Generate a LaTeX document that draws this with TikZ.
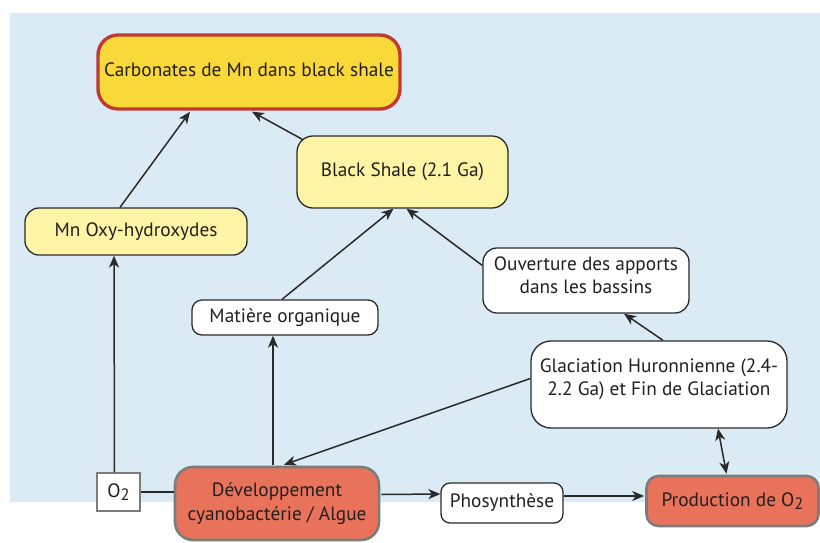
\documentclass[tikz,border=0pt]{standalone}
\usepackage{fontspec}
\setmainfont{PT Sans}
\usetikzlibrary{arrows.meta,calc}
\definecolor{bgblue}{HTML}{DBEBF6}
\definecolor{carbfill}{HTML}{F9D83A}
\definecolor{carbline}{HTML}{BF3A33}
\definecolor{lyellow}{HTML}{FDF4A6}
\definecolor{salmon}{HTML}{E9735A}
\definecolor{grayline}{HTML}{7C7C7C}
\definecolor{inkline}{HTML}{2A2A2A}
\definecolor{txt}{HTML}{231F20}
\newcommand{\subtwo}{\raisebox{-3.5pt}{\fontsize{16.5}{16.5}\selectfont 2}}
\tikzset{
  basebox/.style={draw=inkline, line width=1.3pt, align=center, text=txt, inner sep=0pt},
  ybox/.style={basebox, fill=lyellow},
  wbox/.style={basebox, fill=white},
  rbox/.style={basebox, fill=salmon, draw=grayline, line width=2.6pt},
  boxtext/.style={align=center, text=txt, inner sep=0pt},
  arr/.style={draw=inkline, line width=1.5pt, -{Stealth[length=12pt,width=10pt,inset=3.5pt]}},
  darr/.style={draw=inkline, line width=1.5pt, {Stealth[length=12pt,width=10pt,inset=3.5pt]}-{Stealth[length=12pt,width=10pt,inset=3.5pt]}},
  plain/.style={draw=inkline, line width=1.5pt}
}
\begin{document}
\begin{tikzpicture}[x=1pt,y=-1pt,font=\fontsize{19.3}{22.5}\selectfont]
\useasboundingbox (0,0) rectangle (820,542);
\fill[bgblue] (10,13) rectangle (820,502);

\node[basebox, fill=carbfill, draw=carbline, line width=3.4pt, rounded corners=20pt,
      minimum width=302pt, minimum height=74pt] (carb) at (249,72) {};
\node[boxtext] (carbt) at (249,70) {Carbonates de Mn dans black shale};
\node[ybox, rounded corners=16pt, minimum width=211pt, minimum height=72pt] (bs) at (402.5,172) {Black Shale (2.1 Ga)};
\node[ybox, rounded corners=14pt, minimum width=222pt, minimum height=47pt] (mn) at (136,231.5) {Mn Oxy-hydroxydes};
\node[wbox, rounded corners=10pt, minimum width=186pt, minimum height=35pt] (mat) at (285,317.5) {Matière organique};
\node[wbox, rounded corners=14pt, minimum width=206pt, minimum height=65pt] (ouv) at (586,280.5) {};
\node[boxtext] (ouvt) at (586,275) {Ouverture des apports\\dans les bassins};
\node[wbox, rounded corners=20pt, minimum width=256pt, minimum height=87pt] (glac) at (659,384.5) {};
\node[boxtext] (glact) at (659,379) {Glaciation Huronnienne (2.4-\\2.2 Ga) et Fin de Glaciation};
\node[wbox, draw=grayline, line width=1.3pt, minimum width=43pt, minimum height=38pt] (o2) at (118.5,492) {O\subtwo};
\node[rbox, rounded corners=18pt, minimum width=204pt, minimum height=73pt] (dev) at (277,503.5) {Développement\\[1.5pt]cyanobactérie / Algue};
\node[wbox, rounded corners=9pt, minimum width=122pt, minimum height=40pt] (pho) at (502,503) {Phosynthèse};
\node[rbox, rounded corners=12pt, minimum width=172pt, minimum height=50pt] (prod) at (732.5,501) {Production de O\subtwo};

\draw[arr] ($(mn.north)+(-16,0)$) -- ($(carb.south)+(-59,1)$);
\draw[arr] ($(bs.north west)+(6,4)$) -- ($(carb.south)+(3,1)$);
\draw[arr] ($(mat.north)+(-3,0)$) -- ($(bs.south)+(-9,0)$);
\draw[arr] ($(ouv.west)+(0,-15)$) -- ($(bs.south)+(4,0)$);
\draw[arr] ($(glac.north)+(4,0)$) -- ($(ouv.south)+(38,0)$);
\draw[arr] ($(glac.west)+(0,-6)$) -- ($(dev.north)+(7,-1)$);
\draw[darr] ($(glac.south)+(59,0)$) -- ($(prod.north)+(-6,-1)$);
\draw[arr] ($(o2.north)+(-4,0)$) -- ($(mn.south)+(-22,0)$);
\draw[arr] ($(dev.north)+(-4,-1)$) -- ($(mat.south)+(-12,0)$);
\draw[plain] (o2.east) -- (o2.east -| dev.west);
\draw[arr] ($(dev.east)+(1,-9)$) -- ($(pho.west)+(0,-9)$);
\draw[arr] ($(pho.east)+(0,-7)$) -- ($(prod.west)+(-1,-5)$);
\end{tikzpicture}
\end{document}
